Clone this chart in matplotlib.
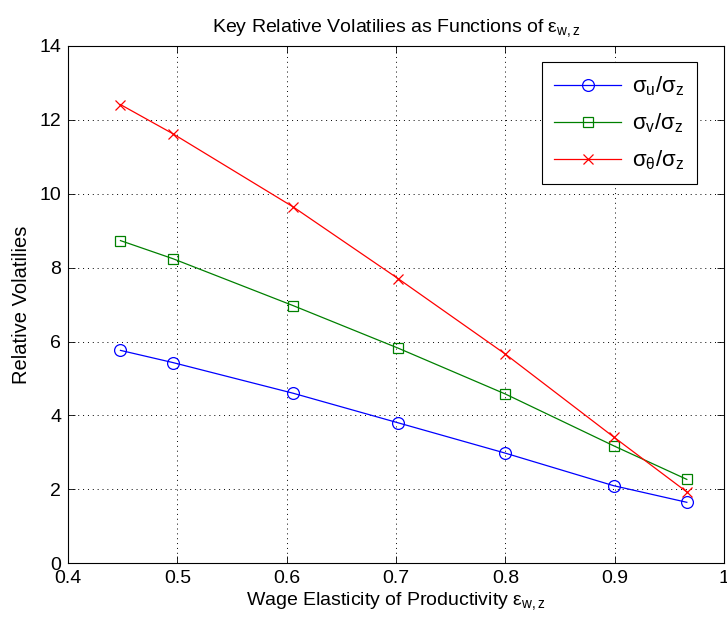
import matplotlib
matplotlib.use("Agg")
import matplotlib.pyplot as plt

plt.rcParams['font.family'] = ['Liberation Sans', 'DejaVu Sans']
plt.rcParams['mathtext.fontset'] = 'custom'
plt.rcParams['mathtext.rm'] = 'Liberation Sans'
plt.rcParams['mathtext.it'] = 'Liberation Sans'

elasticity = [0.448, 0.496, 0.606, 0.702, 0.800, 0.899, 0.966]
sigma_u = [5.76, 5.43, 4.60, 3.80, 2.98, 2.10, 1.65]
sigma_v = [8.73, 8.24, 6.97, 5.82, 4.58, 3.18, 2.27]
sigma_theta = [12.41, 11.62, 9.64, 7.70, 5.66, 3.42, 1.93]

xticks = [0.4, 0.5, 0.6, 0.7, 0.8, 0.9, 1.0]
xticklabels = ['0.4', '0.5', '0.6', '0.7', '0.8', '0.9', '1']
yticks = [0, 2, 4, 6, 8, 10, 12, 14]

fig = plt.figure(figsize=(7.27, 6.31), dpi=100)
ax = fig.add_axes([68/727, 1-563.3/631, (724-68)/727, (563.3-45.8)/631])

ax.plot(elasticity, sigma_u, color=(0, 0, 1), lw=0.9, marker='o', ms=8.5,
        mfc='none', mec=(0, 0, 1), mew=0.9, label=r'$\mathregular{\sigma_u/\sigma_z}$')
ax.plot(elasticity, sigma_v, color=(0, 0.5, 0), lw=0.9, marker='s', ms=6.5,
        mfc='none', mec=(0, 0.5, 0), mew=0.9, label=r'$\mathregular{\sigma_v/\sigma_z}$')
ax.plot(elasticity, sigma_theta, color=(1, 0, 0), lw=0.9, marker='x', ms=7,
        mec=(1, 0, 0), mew=0.9, label=r'$\mathregular{\sigma_\theta/\sigma_z}$')

ax.set_xlim(0.4, 1.0)
ax.set_ylim(0, 14)
ax.set_xticks(xticks)
ax.set_xticklabels(xticklabels)
ax.set_yticks(yticks)
ax.tick_params(direction='in', top=True, right=True, labelsize=14, length=5, width=0.6, pad=5)
ax.grid(True, linestyle=(0, (1, 4)), color='black', linewidth=0.7)
for s in ax.spines.values():
    s.set_linewidth(0.8)

ax.set_xlabel(r'Wage Elasticity of Productivity $\mathregular{\varepsilon_{w,z}}$', fontsize=14, labelpad=2)
ax.set_ylabel('Relative Volatilies', fontsize=14.5, labelpad=6)
ax.set_title(r'Key Relative Volatilies as Functions of $\mathregular{\varepsilon_{w,z}}$', fontsize=14, pad=10)

leg = ax.legend(loc='upper right', bbox_to_anchor=(0.9585, 0.968), fontsize=16,
                frameon=True, fancybox=False, edgecolor='black', framealpha=1,
                handlelength=3.0, borderpad=0.55, labelspacing=0.6, handletextpad=0.5,
                borderaxespad=0)
leg.get_frame().set_linewidth(0.8)

fig.savefig('out.png', dpi=100)
